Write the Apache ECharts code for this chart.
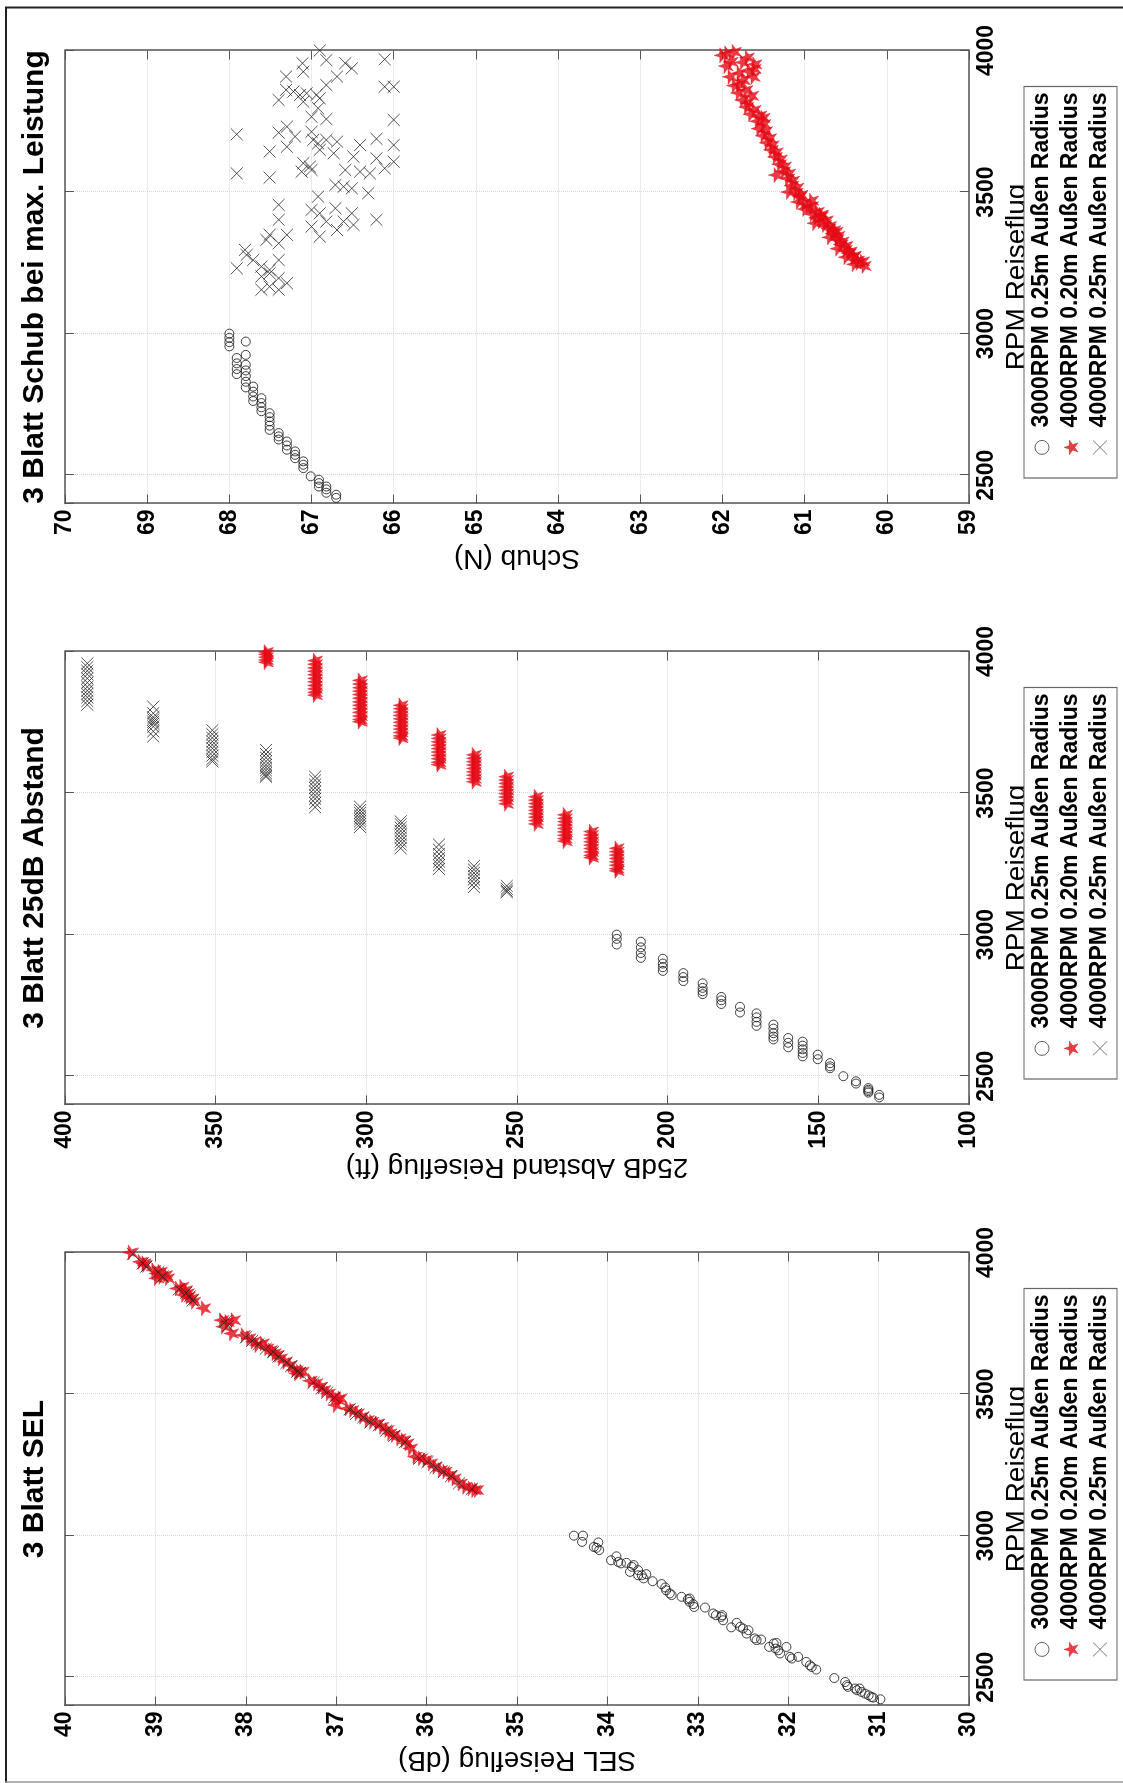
<!DOCTYPE html>
<html>
<head>
<meta charset="utf-8">
<title>3 Blatt Vergleich</title>
<script src="https://cdn.jsdelivr.net/npm/echarts@6/dist/echarts.min.js"></script>
<style>
  body { margin: 0; overflow: hidden; background: #fff; }
  /* Grafik liegt im Querformat vor und wird um 90° gedreht abgebildet */
  #main { position: absolute; left: 0; top: 0; width: 1783px; height: 1123px;
          transform-origin: 0 0; transform: translate(0, 1783px) rotate(-90deg); }
</style>
</head>
<body>
<div id="main"></div>
<script type="text/javascript">
// ---- Daten ----
var legendNames = ['3000RPM 0.25m Außen Radius', '4000RPM 0.20m Außen Radius', '4000RPM 0.25m Außen Radius'];
var plotTitles = ['3 Blatt SEL', '3 Blatt 25dB Abstand', '3 Blatt Schub bei max. Leistung'];
var yNames = ['SEL Reiseflug (dB)', '25dB Abstand Reiseflug (ft)', 'Schub (N)'];
var xName = 'RPM Reiseflug';
var rpmRange = [2400, 4000];
var yMin = [30, 100, 59];
var yMax = [40, 400, 70];
var yStep = [1, 50, 1];

// [RPM, SEL dB]
var selKreis = [[3000,34.37],[3000,34.27],[2978,34.28],[2960,34.15],[2976,34.10],[2949,34.09],[2957,34.12],[2913,33.96],[2927,33.90],[2907,33.88],[2902,33.85],[2904,33.79],[2890,33.73],[2872,33.75],[2896,33.71],[2878,33.66],[2860,33.62],[2864,33.57],[2849,33.60],[2860,33.66],[2839,33.50],[2829,33.40],[2817,33.36],[2807,33.35],[2796,33.31],[2790,33.29],[2784,33.18],[2775,33.11],[2766,33.09],[2758,33.05],[2748,33.04],[2778,33.09],[2746,32.92],[2725,32.83],[2719,32.80],[2719,32.73],[2701,32.72],[2713,32.74],[2676,32.63],[2692,32.57],[2678,32.53],[2672,32.50],[2654,32.46],[2666,32.44],[2637,32.37],[2631,32.35],[2633,32.30],[2607,32.21],[2619,32.16],[2601,32.14],[2595,32.11],[2584,32.09],[2621,32.13],[2607,32.02],[2572,31.98],[2566,31.96],[2572,31.89],[2554,31.80],[2542,31.76],[2536,31.74],[2527,31.69],[2497,31.49],[2483,31.37],[2472,31.35],[2466,31.34],[2460,31.26],[2454,31.24],[2460,31.21],[2448,31.19],[2442,31.15],[2436,31.11],[2430,31.08],[2428,31.06],[2422,30.98]];
var selStern = [[4000,39.28],[3967,39.17],[3962,39.13],[3956,39.12],[3938,39.02],[3926,38.99],[3932,38.95],[3914,38.94],[3920,38.89],[3909,38.87],[3909,38.99],[3873,38.76],[3879,38.71],[3867,38.67],[3856,38.65],[3844,38.64],[3838,38.60],[3826,38.58],[3850,38.69],[3803,38.47],[3761,38.27],[3755,38.21],[3761,38.14],[3738,38.25],[3714,38.16],[3708,38.03],[3697,37.97],[3685,37.92],[3673,37.88],[3679,37.82],[3661,37.77],[3655,37.73],[3644,37.69],[3638,37.66],[3626,37.62],[3614,37.57],[3602,37.51],[3585,37.47],[3579,37.42],[3573,37.44],[3579,37.38],[3547,37.29],[3538,37.23],[3526,37.18],[3514,37.14],[3502,37.09],[3490,37.03],[3479,36.99],[3461,37.01],[3485,36.96],[3449,36.88],[3443,36.83],[3432,36.77],[3420,36.72],[3408,36.66],[3402,36.61],[3396,36.55],[3384,36.50],[3373,36.44],[3361,36.41],[3355,36.37],[3343,36.31],[3337,36.26],[3326,36.22],[3308,36.18],[3279,36.13],[3273,36.07],[3267,36.02],[3255,35.96],[3243,35.91],[3231,35.85],[3226,35.80],[3214,35.74],[3202,35.70],[3184,35.63],[3172,35.58],[3167,35.52],[3161,35.48],[3161,35.45]];
var selKreuz = [[3995,39.25],[3962,39.14],[3950,39.10],[3930,38.97],[3915,38.92],[3870,38.74],[3858,38.66],[3845,38.62],[3830,38.59],[3758,38.22],[3740,38.20],[3700,38.00],[3688,37.93],[3676,37.86],[3660,37.78],[3648,37.70],[3632,37.64],[3610,37.55],[3598,37.50],[3580,37.43],[3575,37.40],[3540,37.25],[3520,37.16],[3505,37.10],[3488,37.02],[3446,36.85],[3430,36.78],[3418,36.70],[3400,36.62],[3390,36.53],[3370,36.45],[3352,36.36],[3330,36.24],[3272,36.08],[3260,35.99],[3240,35.90],[3225,35.81],[3210,35.73],[3185,35.64],[3165,35.50]];

// [RPM, Abstand ft]
var abstandKreis = [[3000,216.9],[2985,216.9],[2965,216.9],[2975,208.9],[2955,208.9],[2935,208.9],[2918,208.9],[2915,201.6],[2898,201.6],[2885,201.6],[2872,201.6],[2864,194.8],[2850,194.8],[2836,194.8],[2828,188.4],[2812,188.4],[2800,188.4],[2790,188.4],[2780,182.2],[2768,182.2],[2755,182.2],[2745,176.0],[2725,176.0],[2722,170.5],[2708,170.5],[2692,170.5],[2678,170.5],[2682,164.9],[2668,164.9],[2652,164.9],[2640,164.9],[2630,164.9],[2635,160.0],[2618,160.0],[2602,160.0],[2622,155.2],[2608,155.2],[2595,155.2],[2582,155.2],[2570,155.2],[2576,150.2],[2560,150.2],[2546,146.1],[2535,146.1],[2528,146.1],[2500,141.7],[2482,137.5],[2474,137.5],[2458,133.4],[2452,133.4],[2447,133.4],[2442,133.4],[2434,129.8],[2425,129.8]];
var abstandStern = [[3998,333.3],[3990,333.3],[3980,333.3],[3970,333.3],[3962,333.3],
  [3968,317.0],[3955,317.0],[3942,317.0],[3930,317.0],[3918,317.0],[3905,317.0],[3893,317.0],[3880,317.0],[3868,317.0],[3856,317.0],[3846,317.0],
  [3898,302.1],[3885,302.1],[3872,302.1],[3860,302.1],[3848,302.1],[3835,302.1],[3822,302.1],[3810,302.1],[3798,302.1],[3785,302.1],[3772,302.1],[3760,302.1],[3752,302.1],
  [3810,288.6],[3798,288.6],[3786,288.6],[3774,288.6],[3762,288.6],[3750,288.6],[3738,288.6],[3726,288.6],[3714,288.6],[3702,288.6],[3694,288.6],
  [3705,276.0],[3693,276.0],[3681,276.0],[3669,276.0],[3657,276.0],[3645,276.0],[3633,276.0],[3621,276.0],[3609,276.0],[3600,276.0],
  [3635,264.3],[3623,264.3],[3611,264.3],[3599,264.3],[3587,264.3],[3575,264.3],[3563,264.3],[3551,264.3],[3540,264.3],
  [3558,253.6],[3546,253.6],[3534,253.6],[3522,253.6],[3510,253.6],[3498,253.6],[3486,253.6],[3474,253.6],[3462,253.6],
  [3487,243.7],[3475,243.7],[3463,243.7],[3451,243.7],[3439,243.7],[3427,243.7],[3415,243.7],[3403,243.7],[3391,243.7],
  [3423,234.1],[3411,234.1],[3399,234.1],[3387,234.1],[3375,234.1],[3363,234.1],[3351,234.1],[3339,234.1],[3330,234.1],
  [3364,225.4],[3352,225.4],[3340,225.4],[3328,225.4],[3316,225.4],[3304,225.4],[3292,225.4],[3280,225.4],[3272,225.4],
  [3305,216.9],[3293,216.9],[3281,216.9],[3269,216.9],[3257,216.9],[3245,216.9],[3233,216.9],[3225,216.9]];
var abstandKreuz = [[3958,392.6],[3945,392.6],[3932,392.6],[3920,392.6],[3905,392.6],[3890,392.6],[3875,392.6],[3862,392.6],[3850,392.6],[3838,392.6],[3825,392.6],[3812,392.6],
  [3805,370.7],[3782,370.7],[3768,370.7],[3760,370.7],[3752,370.7],[3745,370.7],[3735,370.7],[3718,370.7],[3700,370.7],
  [3722,351.1],[3708,351.1],[3695,351.1],[3682,351.1],[3670,351.1],[3658,351.1],[3645,351.1],[3632,351.1],[3620,351.1],[3612,351.1],
  [3652,333.3],[3638,333.3],[3625,333.3],[3612,333.3],[3600,333.3],[3590,333.3],[3580,333.3],[3570,333.3],[3562,333.3],[3558,333.3],
  [3558,317.0],[3545,317.0],[3530,317.0],[3518,317.0],[3505,317.0],[3492,317.0],[3480,317.0],[3465,317.0],[3450,317.0],
  [3452,302.1],[3440,302.1],[3430,302.1],[3420,302.1],[3410,302.1],[3400,302.1],[3390,302.1],[3380,302.1],
  [3400,288.6],[3390,288.6],[3378,288.6],[3366,288.6],[3354,288.6],[3342,288.6],[3330,288.6],[3318,288.6],[3305,288.6],
  [3318,275.9],[3300,275.9],[3285,275.9],[3270,275.9],[3258,275.9],[3245,275.9],[3232,275.9],
  [3242,264.3],[3230,264.3],[3218,264.3],[3206,264.3],[3195,264.3],[3182,264.3],[3168,264.3],
  [3172,253.4],[3162,253.4],[3155,253.4],[3150,253.4]];

// [RPM, Schub N]
var schubKreis = [[3000,68.00],[2985,68.00],[2970,68.00],[2955,68.00],[2972,67.80],[2925,67.80],[2914,67.91],[2895,67.91],[2875,67.91],[2857,67.91],[2890,67.80],[2870,67.80],[2850,67.80],[2830,67.80],[2810,67.80],[2813,67.71],[2795,67.71],[2778,67.71],[2762,67.71],[2772,67.61],[2755,67.61],[2740,67.61],[2726,67.61],[2719,67.51],[2705,67.51],[2690,67.51],[2675,67.51],[2660,67.51],[2649,67.40],[2637,67.40],[2626,67.40],[2619,67.30],[2605,67.30],[2590,67.30],[2584,67.20],[2572,67.20],[2560,67.20],[2549,67.10],[2537,67.10],[2525,67.10],[2496,67.01],[2484,66.91],[2472,66.91],[2460,66.91],[2460,66.82],[2450,66.82],[2438,66.82],[2431,66.70],[2420,66.70]];
var schubStern = [[3983,62.01],[3995,61.86],[3945,61.96],[3907,61.91],[3958,61.76],[3926,61.68],[3951,61.61],[3907,61.63],[3876,61.86],[3850,61.81],[3825,61.76],[3800,61.71],[3775,61.66],[3750,61.58],[3762,61.51],[3724,61.56],[3699,61.51],[3674,61.46],[3649,61.41],[3624,61.36],[3598,61.31],[3573,61.26],[3548,61.21],[3523,61.16],[3497,61.11],[3485,61.06],[3460,61.01],[3447,60.96],[3422,60.91],[3409,60.86],[3397,60.81],[3384,60.76],[3371,60.71],[3353,60.66],[3334,60.61],[3315,60.56],[3296,60.51],[3284,60.46],[3271,60.41],[3258,60.36],[3239,60.28],[3440,61.00],[3420,60.80],[3340,60.70],[3300,60.60],[3270,60.50],[3250,60.35],[3500,61.20],[3560,61.35],[3470,60.92],[3390,60.88],[3360,60.62],
  [3880,61.80],[3860,61.72],[3840,61.65],[3815,61.70],[3790,61.62],[3770,61.55],[3740,61.50],[3715,61.48],[3690,61.43],[3665,61.40],[3640,61.35],[3615,61.30],[3590,61.25],[3565,61.20],[3540,61.15],[3515,61.10],[3490,61.05],[3465,61.08],[3450,60.92],[3430,60.85],[3415,60.80],[3400,60.74],[3380,60.70],[3365,60.65],[3345,60.60],[3325,60.55],[3310,60.50],[3290,60.45],[3275,60.40],[3255,60.30],[3245,60.40],[3960,61.90],[3975,61.70],[3935,61.62],[3990,61.95],[3920,61.80],[3895,61.75]];
var schubKreuz = [[4000,66.90],[3966,66.82],[3969,66.11],[3955,66.59],[3937,66.51],[3955,67.11],[3925,67.10],[3908,67.31],[3908,66.69],[3872,66.11],[3872,66.00],[3861,67.31],[3855,67.22],[3825,67.40],[3843,67.14],[3849,67.06],[3819,67.10],[3843,66.94],[3831,66.90],[3878,66.82],[3796,66.92],[3766,67.00],[3758,66.82],[3755,66.00],[3704,67.91],[3710,67.40],[3731,67.30],[3696,67.20],[3660,67.30],[3643,67.51],[3713,67.00],[3684,66.98],[3672,66.92],[3649,66.90],[3684,66.82],[3678,66.69],[3637,66.73],[3688,66.21],[3666,66.00],[3607,66.00],[3666,66.41],[3625,66.49],[3578,66.59],[3572,66.41],[3566,66.29],[3619,66.21],[3584,66.11],[3566,67.91],[3551,67.51],[3602,67.10],[3578,67.00],[3590,67.02],[3572,67.12],[3525,66.71],[3519,66.61],[3513,66.51],[3496,66.31],[3455,67.40],[3402,67.40],[3349,67.51],[3349,67.30],[3319,67.40],[3331,67.55],[3484,66.92],[3437,67.00],[3425,66.90],[3396,66.82],[3443,66.71],[3396,66.61],[3425,66.51],[3384,66.49],[3366,66.69],[3343,66.90],[3402,66.21],[3378,67.00],[3296,67.81],[3260,67.71],[3231,67.91],[3237,67.61],[3225,67.51],[3260,67.40],[3202,67.61],[3213,67.51],[3196,67.40],[3178,67.30],[3155,67.61],[3166,67.51],[3155,67.40],[3278,67.79]];

var seriesData = [
  [selKreis, selStern, selKreuz],
  [abstandKreis, abstandStern, abstandKreuz],
  [schubKreis, schubStern, schubKreuz]
];

// ---- Layout / Stil ----
var FONT = '"Liberation Sans", Arial, Helvetica, sans-serif';
var gridLeft = [77.5, 678.5, 1279.5];
var gridW = 453, gridTop = 65, gridH = 904;
var AXIS_COLOR = '#555';
var STAR = 'path://M0,-1L0.2245,-0.309L0.951,-0.309L0.3633,0.118L0.588,0.809L0,0.382L-0.588,0.809L-0.3633,0.118L-0.951,-0.309L-0.2245,-0.309Z';
var CROSS = 'path://M0,0L1,1M1,0L0,1';
var RED = '#e30b17';

var markerStyles = [
  { symbol: 'circle', symbolSize: 9, itemStyle: { color: 'rgba(0,0,0,0)', borderColor: '#1e1e1e', borderWidth: 1, opacity: 0.85 } },
  { symbol: STAR, symbolSize: 15, itemStyle: { color: RED, borderColor: RED, borderWidth: 0.5 } },
  { symbol: CROSS, symbolSize: 12, itemStyle: { color: 'rgba(0,0,0,0)', borderColor: '#262626', borderWidth: 1, opacity: 0.8 } }
];

function rpmAxis(i, pos) {
  var main = pos === 'bottom';
  return {
    type: 'value', gridIndex: i, position: pos,
    min: rpmRange[0], max: rpmRange[1], splitNumber: 3,
    axisLine: { show: true, onZero: false, lineStyle: { color: AXIS_COLOR, width: 1.5 } },
    axisTick: { show: true, inside: true, length: 9, lineStyle: { color: AXIS_COLOR } },
    axisLabel: main ? {
      show: true, margin: 6, showMinLabel: false, color: '#000',
      fontSize: 23, fontWeight: 'bold', fontFamily: FONT,
      formatter: function (v) { return v % 500 === 0 ? String(v) : ''; }
    } : { show: false },
    splitLine: main ? { show: true, lineStyle: { color: '#d6d6d6', type: 'dotted', width: 1 } } : { show: false },
    name: main ? xName : '', nameLocation: 'middle', nameGap: 31,
    nameTextStyle: { fontSize: 28, fontFamily: FONT, color: '#000' }
  };
}

function valAxis(i, pos) {
  var main = pos === 'left';
  return {
    type: 'value', gridIndex: i, position: pos,
    min: yMin[i], max: yMax[i], interval: yStep[i],
    axisLine: { show: true, onZero: false, lineStyle: { color: AXIS_COLOR, width: 1.5 } },
    axisTick: { show: true, inside: true, length: 9, lineStyle: { color: AXIS_COLOR } },
    axisLabel: main ? {
      show: true, margin: 6, color: '#000',
      fontSize: 23, fontWeight: 'bold', fontFamily: FONT
    } : { show: false },
    splitLine: main ? { show: true, lineStyle: { color: '#d6d6d6', type: 'dotted', width: 1 } } : { show: false },
    name: main ? yNames[i] : '', nameLocation: 'middle', nameGap: 40,
    nameTextStyle: { fontSize: 28, fontFamily: FONT, color: '#000' }
  };
}

var grids = [], xAxes = [], yAxes = [], series = [], legends = [], graphics = [];

for (var i = 0; i < 3; i++) {
  grids.push({ left: gridLeft[i], top: gridTop, width: gridW, height: gridH, containLabel: false, outerBoundsMode: 'none' });
  xAxes.push(rpmAxis(i, 'bottom'), rpmAxis(i, 'top'));
  yAxes.push(valAxis(i, 'left'), valAxis(i, 'right'));

  for (var k = 0; k < 3; k++) {
    series.push({
      type: 'scatter', name: legendNames[k],
      xAxisIndex: 2 * i, yAxisIndex: 2 * i,
      symbol: markerStyles[k].symbol, symbolSize: markerStyles[k].symbolSize,
      itemStyle: markerStyles[k].itemStyle,
      data: seriesData[i][k],
      z: 2 + k
    });
  }

  legends.push({
    orient: 'vertical', left: gridLeft[i] + 25.5, top: 1024,
    padding: [6, 6, 5, 23], itemWidth: 30, itemHeight: 14, itemGap: 5,
    backgroundColor: '#fff', borderColor: '#666', borderWidth: 1.2, borderRadius: 0,
    selectedMode: false, z: 10,
    textStyle: { fontSize: 23, fontWeight: 'bold', fontFamily: FONT, color: '#000', lineHeight: 24 },
    data: [
      { name: legendNames[0], icon: 'circle', itemStyle: { color: 'rgba(0,0,0,0)', borderColor: '#444', borderWidth: 1 } },
      { name: legendNames[1], icon: STAR, itemStyle: { color: RED, borderColor: RED, borderWidth: 0.5 } },
      { name: legendNames[2], icon: CROSS, itemStyle: { color: 'rgba(0,0,0,0)', borderColor: '#555', borderWidth: 1 } }
    ]
  });

  graphics.push({
    type: 'text', x: gridLeft[i] + gridW / 2, y: 20, z: 10,
    style: {
      text: plotTitles[i], fill: '#000',
      fontSize: 30, fontWeight: 'bold', fontFamily: FONT,
      align: 'center', verticalAlign: 'top', textAlign: 'center', textVerticalAlign: 'top'
    }
  });
}

// Rahmen der Abbildung
graphics.push(
  { type: 'line', shape: { x1: 0, y1: 6, x2: 1776, y2: 6 }, style: { stroke: '#222', lineWidth: 2 } },
  { type: 'line', shape: { x1: 1775.5, y1: 5, x2: 1775.5, y2: 1123 }, style: { stroke: '#222', lineWidth: 2 } },
  { type: 'line', shape: { x1: 1, y1: 5, x2: 1, y2: 1123 }, style: { stroke: '#999', lineWidth: 1.5 } }
);

var myChart = echarts.init(document.getElementById('main'));
myChart.setOption({
  animation: false,
  backgroundColor: '#fff',
  grid: grids,
  xAxis: xAxes,
  yAxis: yAxes,
  legend: legends,
  graphic: graphics,
  series: series
});
</script>
</body>
</html>
